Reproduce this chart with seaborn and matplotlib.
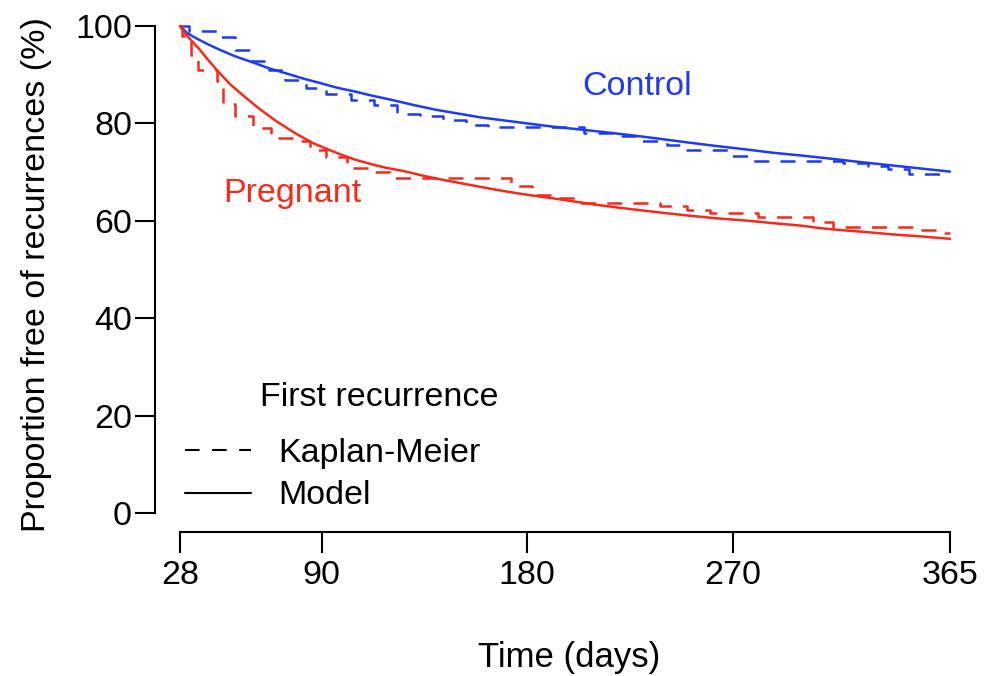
import matplotlib
matplotlib.use("Agg")
import matplotlib.pyplot as plt
import seaborn as sns
from matplotlib.lines import Line2D

# ---- data ----
control_km_t = [28, 32, 44, 52, 59, 67, 74, 83, 92, 103, 113, 123, 133, 143, 153, 163,
                205, 221, 229, 241, 248, 268, 278, 318, 329, 338, 347, 365]
control_km_v = [100, 99, 97.8, 95, 92.8, 91, 89, 87.3, 86, 84.8, 83.8, 82, 81.5, 80.7, 79.7, 79.3,
                78, 77.4, 76.4, 75.6, 74.5, 73.3, 72.3, 71.9, 71.3, 70.6, 69.6, 69.6]

preg_km_t = [28, 29, 33, 36, 44, 47, 52, 60, 68, 77, 85, 92, 101, 111, 120,
             173, 182, 192, 203, 238, 250, 260, 281, 305, 314, 350, 359, 365]
preg_km_v = [100, 98, 94, 91, 88.8, 84, 81.5, 79, 77, 76.4, 74.5, 73, 70.8, 70, 68.8,
             67.1, 65.3, 64.7, 63.7, 63, 62.2, 61.6, 60.8, 59.8, 58.7, 58.1, 57.5, 57.5]

control_model_t = [28, 31, 35, 40, 45, 52, 60, 67, 75, 82, 90, 97, 105, 112, 120, 130, 140, 150,
                   160, 170, 180, 190, 200, 212, 225, 237, 250, 262, 275, 287, 300, 312, 325,
                   335, 345, 355, 365]
control_model_v = [100, 98.6, 97.5, 96.3, 95.2, 93.8, 92.5, 91.3, 90.2, 89.2, 88.2, 87.3, 86.5,
                   85.7, 84.9, 83.8, 82.8, 82.0, 81.2, 80.6, 80.0, 79.4, 78.9, 78.3, 77.6, 76.9,
                   76.1, 75.4, 74.7, 74.0, 73.4, 72.8, 72.1, 71.6, 71.1, 70.6, 70.1]

preg_model_t = [28, 30, 33, 36, 40, 45, 50, 57, 63, 70, 78, 86, 92, 99, 105, 112, 118, 126,
                134, 142, 150, 158, 166, 175, 182, 190, 200, 210, 220, 229, 240, 250, 263,
                277, 288, 300, 308, 317, 328, 340, 352, 365]
preg_model_v = [100, 98.6, 97.0, 95.5, 93.2, 90.5, 88.0, 85.2, 82.9, 80.5, 78.1, 76.0, 74.8,
                73.5, 72.5, 71.6, 70.9, 70.2, 69.3, 68.5, 67.8, 67.1, 66.4, 65.7, 65.2, 64.7,
                64.0, 63.3, 62.7, 62.2, 61.6, 61.1, 60.5, 60.0, 59.5, 59.0, 58.5, 58.1, 57.7,
                57.2, 56.8, 56.3]

x_ticks = [28, 90, 180, 270, 365]
y_ticks = [0, 20, 40, 60, 80, 100]
group_names = ["Control", "Pregnant"]
legend_labels = ["Kaplan-Meier", "Model"]

BLUE = "#1f3af2"
RED = "#f52a1c"

sns.set_theme(style="ticks")
plt.rcParams["font.family"] = ["Liberation Sans", "DejaVu Sans"]
plt.rcParams["text.color"] = "black"
plt.rcParams["axes.labelcolor"] = "black"
FS = 24.5

fig = plt.figure(figsize=(9.94, 6.76), dpi=100)
ax = fig.add_axes([180 / 994, 1 - 513 / 676, 770 / 994, 487 / 676])

dash = (0, (6, 4.5))
lw = 1.8
sns.lineplot(x=control_km_t, y=control_km_v, ax=ax, color=BLUE, lw=lw,
             drawstyle="steps-post", linestyle=dash, clip_on=False, sort=False)
sns.lineplot(x=preg_km_t, y=preg_km_v, ax=ax, color=RED, lw=lw,
             drawstyle="steps-post", linestyle=dash, clip_on=False, sort=False)
sns.lineplot(x=control_model_t, y=control_model_v, ax=ax, color=BLUE, lw=lw,
             clip_on=False, sort=False)
sns.lineplot(x=preg_model_t, y=preg_model_v, ax=ax, color=RED, lw=lw,
             clip_on=False, sort=False)

ax.set_xlim(28, 365)
ax.set_ylim(0, 100)
ax.set_xticks(x_ticks)
ax.set_yticks(y_ticks)
ax.set_xticklabels([str(t) for t in x_ticks])
ax.set_yticklabels([str(t) for t in y_ticks])

for s in ["top", "right"]:
    ax.spines[s].set_visible(False)
ax.spines["left"].set_position(("outward", 18))
ax.spines["bottom"].set_position(("outward", 13.7))
for s in ["left", "bottom"]:
    ax.spines[s].set_linewidth(1.5)
    ax.spines[s].set_color("black")

ax.tick_params(axis="y", length=14.5, width=1.5, pad=2, labelsize=FS, colors="black")
ax.tick_params(axis="x", length=15, width=1.5, pad=5, labelsize=FS, colors="black")

ax.set_xlabel("Time (days)", fontsize=25, color="black")
ax.set_ylabel("Proportion free of recurrences (%)", fontsize=24.5, color="black")
ax.xaxis.set_label_coords((569 - 180) / 770, (513 - 641) / 487)
ax.yaxis.set_label_coords((52 - 180) / 770, (513 - 275) / 487)

ax.text(204, 87.5, group_names[0], color=BLUE, fontsize=FS, ha="left", va="center")
ax.text(46.8, 65.7, group_names[1], color=RED, fontsize=FS, ha="left", va="center")

handles = [Line2D([], [], color="black", lw=1.5, linestyle=(0, (7, 6))),
           Line2D([], [], color="black", lw=1.5)]
leg = fig.legend(handles, legend_labels, loc="center left",
                 bbox_to_anchor=(185 / 994, 1 - 474.5 / 676), frameon=False,
                 fontsize=FS, handlelength=1.95, handletextpad=0.8,
                 labelspacing=0.35, borderpad=0, borderaxespad=0)
for t in leg.get_texts():
    t.set_color("black")
fig.text(260 / 994, 1 - 398 / 676, "First recurrence", fontsize=FS,
         ha="left", va="center", color="black")

fig.savefig("out.png", dpi=100)
